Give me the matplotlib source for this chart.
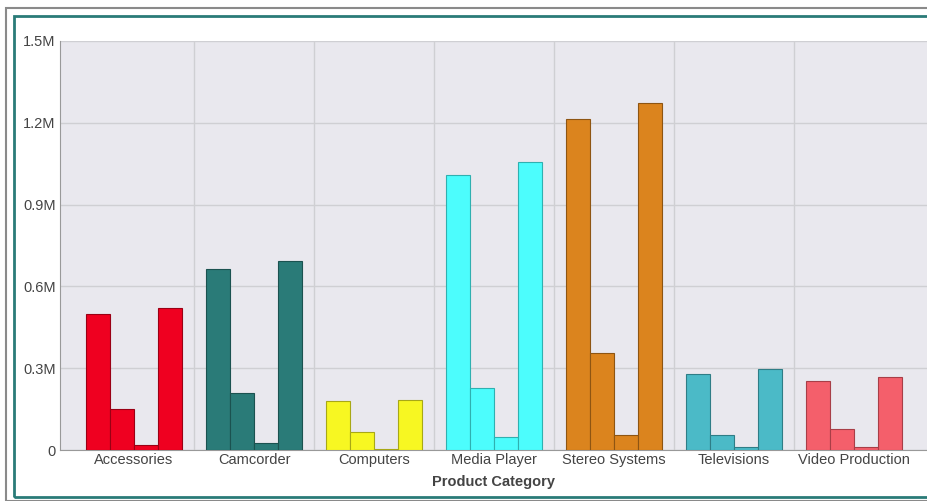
import matplotlib.pyplot as plt
from matplotlib.patches import Rectangle
from matplotlib.ticker import FuncFormatter
import numpy as np

plt.rcParams['font.family'] = ['Liberation Sans', 'DejaVu Sans']

categories = ["Accessories", "Camcorder", "Computers", "Media Player",
              "Stereo Systems", "Televisions", "Video Production"]
# four bars per category, values in millions
s1 = [0.499, 0.664, 0.180, 1.008, 1.214, 0.279, 0.253]
s2 = [0.150, 0.209, 0.066, 0.227, 0.356, 0.055, 0.077]
s3 = [0.018, 0.026, 0.002, 0.048, 0.055, 0.011, 0.011]
s4 = [0.521, 0.693, 0.183, 1.056, 1.272, 0.297, 0.268]
colors = ["#EF0020", "#2A7B78", "#F7F722", "#4CFDFD", "#DB841E", "#4BBAC7", "#F45F6B"]
edges = ["#9A0014", "#1B5250", "#A8A816", "#2FB0B0", "#8E5512", "#2F7D86", "#A83E47"]

fig = plt.figure(figsize=(9.27, 5.01), dpi=100)

# frame borders
fig.patches.append(Rectangle((6 / 927, 0), 1, 1 - 8 / 501, transform=fig.transFigure,
                             fill=False, ec="#8a8a8a", lw=1.5))
fig.patches.append(Rectangle((14 / 927, 4 / 501), 1, 1 - 20 / 501, transform=fig.transFigure,
                             fill=False, ec="#2A7B78", lw=2))

ax = fig.add_axes([60 / 927, 1 - 450 / 501, 1 - 60 / 927, (450 - 41) / 501])
ax.set_facecolor("#E9E8EE")

x = np.arange(len(categories))
w = 0.2
for i, vals in enumerate([s1, s2, s3, s4]):
    ax.bar(x + (i - 1.5) * w, vals, width=w, color=colors, edgecolor=edges,
           linewidth=0.8, zorder=3)

ax.set_xlim(-0.617, 6.608)
ax.set_ylim(0, 1.5)
ax.set_yticks([0, 0.3, 0.6, 0.9, 1.2, 1.5])
ax.yaxis.set_major_formatter(FuncFormatter(lambda v, p: "0" if v == 0 else f"{v:.1f}M"))
ax.set_xticks(x)
ax.set_xticklabels(categories)
ax.set_xticks(x[:-1] + 0.5, minor=True)
ax.grid(axis="y", color="#CFCFD3", lw=1, zorder=0)
ax.grid(axis="x", which="minor", color="#CFCFD3", lw=1, zorder=0)
ax.tick_params(axis="both", which="both", length=0, labelsize=10.5, colors="#444444")
ax.tick_params(axis="x", pad=2)
ax.tick_params(axis="y", pad=3)
for s in ["top", "right"]:
    ax.spines[s].set_visible(False)
for s in ["left", "bottom"]:
    ax.spines[s].set_color("#999999")
ax.set_xlabel("Product Category", fontsize=10.5, fontweight="bold", color="#444444", labelpad=6)

fig.savefig("out.png", dpi=100)
